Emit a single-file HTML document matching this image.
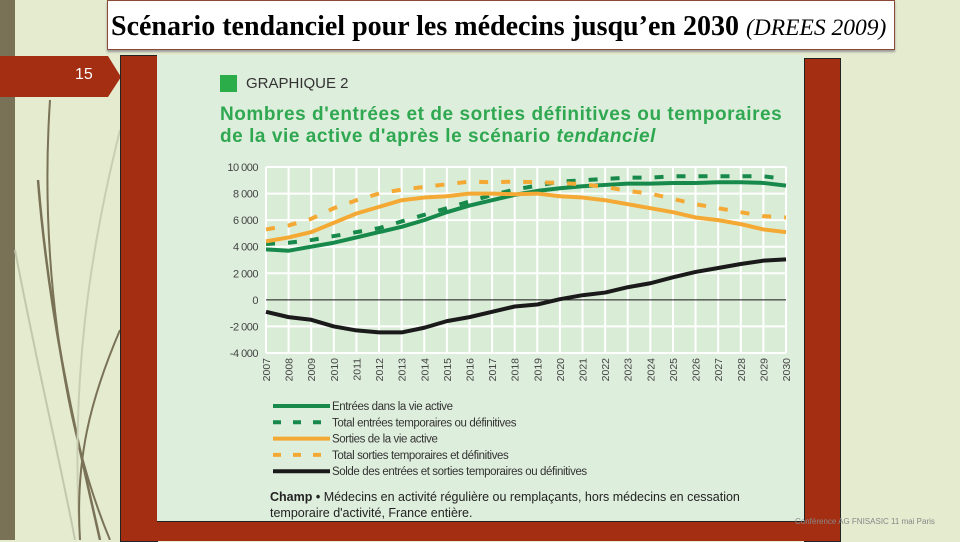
<!DOCTYPE html>
<html><head><meta charset="utf-8"><style>
body{margin:0;width:960px;height:540px;overflow:hidden;background:#e4ebcf;font-family:"Liberation Sans",sans-serif;position:relative}
.abs{position:absolute}
</style></head><body>
<div class="abs" style="left:0;top:0;width:15px;height:540px;background:#7a7257"></div>
<svg class="abs" style="left:0;top:0" width="130" height="540">
<path d="M50 100 C40 250 60 420 110 540" stroke="#7a7257" stroke-width="2" fill="none"/>
<path d="M38 180 C50 330 80 450 100 540" stroke="#7a7257" stroke-width="2.5" fill="none"/>
<path d="M15 250 C40 380 60 460 75 540" stroke="#c2c7ad" stroke-width="2" fill="none"/>
<path d="M120 130 C90 250 70 380 80 540" stroke="#c9ceb3" stroke-width="2" fill="none"/>
<path d="M120 330 C90 400 75 460 80 540" stroke="#7a7257" stroke-width="2" fill="none"/>
</svg>
<div class="abs" style="left:107px;top:0;width:786px;height:48px;background:#fff;border:1px solid #8a4a35;box-shadow:0 2px 2px #999"></div>
<div class="abs" style="left:111px;top:12px;font-family:'Liberation Serif',serif;font-size:28px;font-weight:bold;white-space:nowrap;color:#000;line-height:30px">Scénario tendanciel pour les médecins jusqu’en 2030 <span style="font-weight:normal;font-style:italic;font-size:23.5px">(DREES 2009)</span></div>
<svg class="abs" style="left:0;top:56px" width="122" height="42"><polygon points="0,0 108,0 121,21 108,41 0,41" fill="#a32e12"/></svg>
<div class="abs" style="left:75px;top:66px;color:#fff;font-size:16px">15</div>
<div class="abs" style="left:120px;top:55px;width:36px;height:485px;background:#a32e12;border:1px solid #222"></div>
<div class="abs" style="left:804px;top:58px;width:35px;height:482px;background:#a32e12;border:1px solid #222"></div>
<div class="abs" style="left:157px;top:521px;width:648px;height:19px;background:#a32e12;border-top:1px solid #222"></div>
<div class="abs" style="left:157px;top:55px;width:647px;height:466px;background:#deeedc"></div>
<div class="abs" style="left:220px;top:75px;width:17px;height:17px;background:#2bae4a"></div>
<div class="abs" style="left:246px;top:75px;font-size:15px;color:#333">GRAPHIQUE 2</div>
<div class="abs" style="left:220px;top:104px;font-size:19px;font-weight:bold;color:#2fa851;line-height:22px;white-space:nowrap;letter-spacing:0.55px">Nombres d'entrées et de sorties définitives ou temporaires<br>de la vie active d'après le scénario <i>tendanciel</i></div>
<svg id="chart" class="abs" style="left:0;top:0" width="960" height="540"></svg>
<div class="abs" style="left:270px;top:489px;font-size:12.5px;color:#222;line-height:16px;white-space:nowrap"><b>Champ •</b> Médecins en activité régulière ou remplaçants, hors médecins en cessation<br>temporaire d'activité, France entière.</div>
<div class="abs" style="left:795px;top:517px;font-size:8px;color:#888;white-space:nowrap">Conférence AG FNISASIC 11 mai Paris</div>
<script>
const years=[2007,2008,2009,2010,2011,2012,2013,2014,2015,2016,2017,2018,2019,2020,2021,2022,2023,2024,2025,2026,2027,2028,2029,2030];
const yTicks=[10000,8000,6000,4000,2000,0,-2000,-4000];
const yTickLabels=["10 000","8 000","6 000","4 000","2 000","0","-2 000","-4 000"];
const entrees=[3800,3700,4000,4300,4700,5100,5500,6000,6600,7100,7500,7900,8200,8400,8550,8650,8750,8750,8800,8800,8850,8850,8800,8600];
const totalEntrees=[4200,4300,4500,4800,5100,5400,5900,6400,6900,7400,7900,8300,8600,8900,9000,9100,9200,9200,9300,9300,9300,9300,9300,9100];
const sorties=[4400,4700,5100,5800,6500,7000,7500,7700,7800,8000,8000,7950,8000,7800,7700,7500,7200,6900,6600,6200,6000,5700,5300,5100];
const totalSorties=[5300,5600,6100,6900,7500,8000,8300,8500,8700,8900,8850,8900,8850,8800,8700,8500,8200,8000,7600,7200,6900,6600,6300,6200];
const solde=[-900,-1300,-1500,-2000,-2300,-2450,-2450,-2100,-1600,-1300,-900,-500,-350,50,350,550,950,1250,1700,2100,2400,2700,2950,3050];
const seriesNames=["Entrées dans la vie active","Total entrées temporaires ou définitives","Sorties de la vie active","Total sorties temporaires et définitives","Solde des entrées et sorties temporaires ou définitives"];
const svg=document.getElementById('chart');const NS='http://www.w3.org/2000/svg';
const X0=266,X1=786,Y0=167,Y1=353,VMAX=10000,VMIN=-4000;
const xs=i=>X0+(X1-X0)*i/(years.length-1);
const ys=v=>Y0+(VMAX-v)*(Y1-Y0)/(VMAX-VMIN);
function mk(t,a){const e=document.createElementNS(NS,t);for(const k in a)e.setAttribute(k,a[k]);svg.appendChild(e);return e;}
const bg=mk('rect',{x:X0,y:Y0,width:X1-X0,height:Y1-Y0,fill:'#d9ecd6'});


years.forEach((y,i)=>{
 const l=mk('line',{x1:xs(i),x2:xs(i),y1:Y0,y2:Y1,stroke:'#fff','stroke-width':2});
 
 
 const t=mk('text',{x:0,y:0,'font-size':10.5,fill:'#444','text-anchor':'end',transform:`translate(${xs(i)+4},${Y1+5}) rotate(-90)`,'font-family':'Liberation Sans Narrow, Liberation Sans, sans-serif'});
 t.textContent=y;
 
 
});
yTicks.forEach((v,i)=>{
 const l=mk('line',{x1:X0,x2:X1,y1:ys(v),y2:ys(v),stroke:v===0?'#111':'#fff','stroke-width':v===0?1:2});
 
 
 const t=mk('text',{x:X0-8,y:ys(v)+4,'font-size':11,fill:'#444','text-anchor':'end','letter-spacing':'-0.5'});
 t.textContent=yTickLabels[i];
 
 
});
const styles=[
 {d:entrees,c:'#17894a',dash:null,n:'series-entrees'},
 {d:totalEntrees,c:'#17894a',dash:'9,13',n:'series-total-entrees'},
 {d:sorties,c:'#f4a934',dash:null,n:'series-sorties'},
 {d:totalSorties,c:'#f4a934',dash:'9,13',n:'series-total-sorties'},
 {d:solde,c:'#1a1a1a',dash:null,n:'series-solde'}];
styles.forEach((s,k)=>{
 const pts=s.d.map((v,i)=>xs(i)+','+ys(v)).join(' ');
 const a={points:pts,fill:'none',stroke:s.c,'stroke-width':4,'stroke-linejoin':'round'};
 if(s.dash)a['stroke-dasharray']=s.dash;
 const p=mk('polyline',a);
 
 
 const ly=406+k*16.3;
 const la={x1:273,x2:330,y1:ly,y2:ly,stroke:s.c,'stroke-width':4};
 if(s.dash)la['stroke-dasharray']='8,12';
 const ll=mk('line',la);
 
 
 const lt=mk('text',{x:332,y:ly+4,'font-size':11.5,fill:'#333','letter-spacing':'-0.4'});
 lt.textContent=seriesNames[k];
 
 
});
</script>
</body></html>
